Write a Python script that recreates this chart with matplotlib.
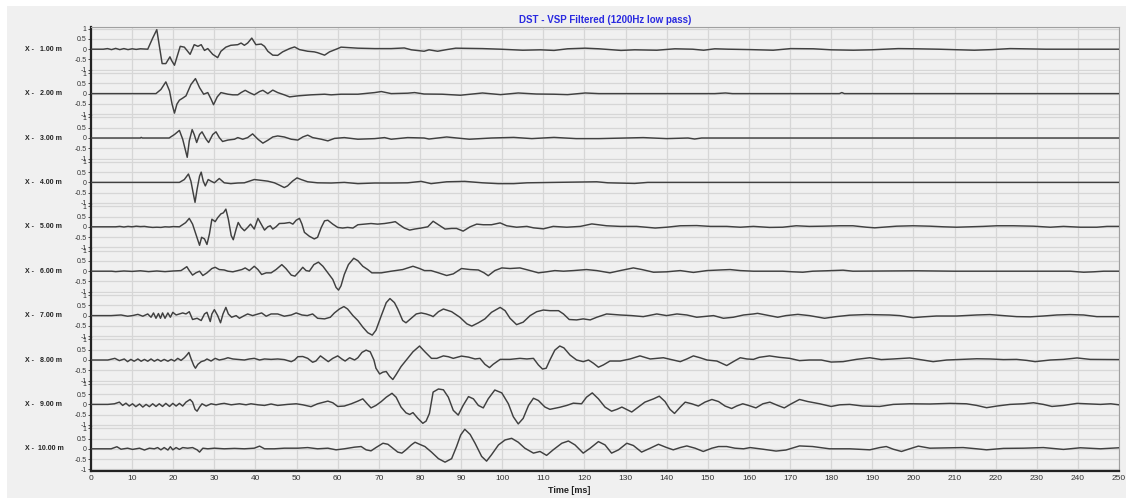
import numpy as np
import matplotlib
matplotlib.use("Agg")
import matplotlib.pyplot as plt
from matplotlib.patches import Rectangle

plt.rcParams['font.family'] = ['Liberation Sans', 'DejaVu Sans']

# offsets (m) of each trace
offsets = [1.0, 2.0, 3.0, 4.0, 5.0, 6.0, 7.0, 8.0, 9.0, 10.0]

# trace 1 : X - 1.00 m  (time ms, amplitude)
t1 = [0, 3, 4, 5, 6, 7, 8, 9, 10, 11, 12, 13.8, 15, 16, 17.3, 18.2, 19.2, 19.6, 20.3, 21.7, 22.7, 23.5, 24.1,
      25.1, 26, 26.8, 27.6, 28.4, 29.6, 30.8, 31.6, 32.8, 34, 35.7, 36.5, 37.3, 38.1, 39.1, 40.1, 41.4, 42.2,
      43, 44.2, 45.4, 46.6, 48.3, 49.5, 50.7, 52.7, 54.3, 55.1, 56.8, 58, 60, 60.8, 64.9, 69, 73, 76.2, 77.9,
      81, 82.2, 84.3, 86.5, 88.7, 95.2, 99.6, 105, 109.3, 112.6, 115.9, 120.2, 123.5, 128.9, 132.2, 137.6,
      142, 146.3, 149, 151.7, 155, 160.4, 165.9, 170.2, 175.7, 180, 185.4, 189.8, 196.3, 200.7, 206.1, 214.8,
      219.1, 223.5, 226.7, 232.2, 250]
a1 = [0, 0, 0.03, -0.02, 0.04, -0.02, 0.03, -0.02, 0.02, -0.01, 0.02, 0.0, 0.54, 0.95, -0.7, -0.7, -0.37, -0.55,
      -0.78, 0.14, 0.1, -0.1, -0.25, 0.22, 0.14, 0.22, -0.06, 0.03, -0.25, -0.41, -0.1, 0.1, 0.19, 0.22, 0.3,
      0.19, 0.3, 0.54, 0.22, 0.25, 0.14, -0.1, -0.29, -0.3, -0.13, 0.03, 0.11, -0.02, -0.1, -0.13, -0.17, -0.29,
      -0.13, 0.03, 0.1, 0.05, 0.03, 0.03, 0.06, -0.03, -0.1, -0.03, -0.1, -0.02, 0.05, 0.03, 0, -0.05, -0.03,
      -0.06, 0.02, 0.05, 0.02, -0.06, -0.03, -0.05, 0.02, 0, -0.05, 0.02, 0, -0.02, -0.05, 0.03, 0.02, -0.03,
      -0.05, -0.03, 0.03, 0.02, 0, -0.05, -0.02, 0.03, 0.02, 0, 0]

# trace 2 : X - 2.00 m
t2 = [0, 15.8, 17, 18.2, 19.1, 19.7, 20.3, 20.9, 21.5, 22.3, 23.1, 24.3, 25.4, 26.4, 27.4, 28.4, 29.2, 29.8,
      30.7, 31.6, 33.3, 34.5, 35.7, 36.5, 37.5, 38.5, 39.7, 41, 41.8, 43, 44.2, 45.4, 47, 48.3, 50.3, 53.5,
      56.8, 58.4, 60.8, 64.9, 69, 70.6, 73, 77, 78.7, 81, 85.4, 89.8, 95.2, 99.6, 103.9, 108.3, 112.6, 115.9,
      120.2, 123.5, 140.9, 151.7, 154.3, 156, 182, 182.6, 183.2, 250]
a2 = [0, 0, 0.2, 0.57, 0.13, -0.5, -0.95, -0.51, -0.32, -0.22, -0.11, 0.44, 0.73, 0.29, -0.03, 0.05, -0.27,
      -0.54, -0.16, 0.05, -0.03, -0.06, -0.06, 0.05, 0.16, 0.05, -0.06, 0.1, 0.16, 0, 0.17, 0.05, -0.06, -0.16,
      -0.11, -0.06, -0.03, -0.06, -0.03, -0.03, 0.05, 0.1, 0, 0.02, 0.05, -0.02, -0.03, -0.08, 0.03, -0.05, 0.03,
      -0.02, -0.03, -0.05, 0.03, 0, 0, 0, 0.03, 0, 0, 0.05, 0, 0]

# trace 3 : X - 3.00 m
t3 = [0, 12, 12.2, 12.5, 19, 20.3, 21.5, 22.3, 23, 23.4, 23.9, 24.6, 25.1, 25.7, 26.4, 27, 28, 28.6, 29.6,
      30.4, 31.2, 32, 33.3, 34.9, 35.7, 36.9, 38.1, 39.3, 40.6, 41.8, 43, 44.2, 45.4, 47, 48.7, 50.3, 51.5,
      52.7, 53.9, 56, 57.6, 59.2, 61.6, 64.9, 69, 71.4, 73, 77, 81, 82.2, 86.5, 92, 97.4, 102.8, 107.2, 112.6,
      118, 123.5, 134.3, 140, 145.2, 146.8, 148.5, 250]
a3 = [0, 0, 0.03, 0, 0, 0.17, 0.37, -0.06, -0.62, -0.94, -0.14, 0.41, 0.17, -0.22, 0.17, 0.3, -0.06, -0.22,
      0.17, 0.3, 0.02, -0.17, -0.1, -0.06, 0.02, -0.06, 0.02, 0.2, -0.06, -0.25, -0.11, 0.05, 0.1, 0.05, -0.06,
      -0.1, 0.05, 0.14, 0.02, -0.06, -0.14, -0.02, 0.02, -0.06, -0.03, 0.02, -0.06, 0.02, 0, -0.05, 0.05, -0.06,
      0, 0.03, -0.03, 0.03, -0.03, -0.03, 0.02, -0.03, 0, -0.05, 0, 0]

# trace 4 : X - 4.00 m
t4 = [0, 21.5, 22.7, 23.7, 24.3, 24.9, 25.3, 25.8, 26.4, 26.8, 27.3, 27.8, 28.5, 29.2, 30, 31.2, 32.4, 34,
      35.7, 37.3, 38.5, 39.7, 41.4, 43, 44.6, 45.8, 47, 47.8, 49, 50.1, 51.1, 52.7, 55.1, 58.4, 61.6, 64.9,
      69, 73, 77, 80.3, 82.7, 86.5, 90.9, 95.2, 99, 102.8, 106.1, 112.6, 123, 125.7, 132.2, 135.4, 250]
a4 = [0, 0, 0.14, 0.41, 0.06, -0.57, -0.97, -0.33, 0.3, 0.5, 0.06, -0.17, 0.14, 0.06, -0.02, 0.19, -0.02,
      -0.06, -0.03, -0.02, 0.06, 0.14, 0.1, 0.06, -0.02, -0.13, -0.25, -0.17, 0.06, 0.22, 0.14, 0.03, -0.02,
      -0.03, 0, -0.06, -0.03, -0.03, -0.02, 0.05, -0.06, 0.03, 0.05, -0.02, -0.06, -0.06, -0.02, 0, 0.03, -0.02,
      -0.05, 0, 0]

# trace 5 : X - 5.00 m
t5 = [0, 6, 7, 8, 9, 10, 11, 12, 13, 14, 15, 16, 17, 18, 19, 20, 21.5, 23, 23.9, 24.7, 25.5, 26.4, 26.9,
      27.6, 28.2, 28.8, 29.4, 30.2, 30.8, 31.6, 32.2, 32.8, 33.4, 34.1, 34.6, 35.3, 35.8, 36.5, 37.3, 38.1,
      38.8, 39.7, 40.6, 41.4, 42.2, 43, 43.6, 44.2, 45, 45.8, 47, 48.3, 49.1, 49.9, 50.7, 51.3, 51.9, 53.1,
      54.3, 55.1, 56, 56.8, 57.6, 58.8, 60, 61.2, 62.4, 63.7, 64.9, 66.5, 68.1, 69.7, 71.4, 73, 74, 75, 76.2,
      77.5, 78.7, 80.3, 81.9, 83.2, 84.5, 86.1, 87.7, 88.9, 90.5, 92.2, 93.8, 95.4, 97.4, 99.5, 101.1, 103.5,
      106, 107.6, 110, 112.4, 115.7, 119, 121.8, 125.4, 128.7, 132.7, 135.1, 137.2, 140, 143.3, 147.3, 150.6,
      154.6, 157.9, 161.1, 165, 168.2, 171.5, 174.7, 178, 182, 185.3, 188.6, 190.6, 192.6, 195.9, 199.9, 204,
      207.3, 210.5, 213.8, 217, 220.3, 224.3, 229.2, 233.3, 236.5, 240.6, 244.6, 247.1, 250]
a5 = [0, 0, 0.02, -0.01, 0.02, 0, 0.03, 0.01, 0.02, -0.01, -0.03, -0.02, -0.03, 0, -0.01, 0.01, 0, 0.2, 0.41,
      0.13, -0.35, -0.9, -0.51, -0.59, -0.86, -0.35, 0.37, 0.25, 0.44, 0.63, 0.68, 0.86, 0.37, -0.43, -0.63,
      -0.11, 0.21, -0.03, -0.19, -0.03, 0.13, -0.11, 0.41, 0.13, -0.16, 0, 0.05, -0.11, 0, 0.16, 0.17, 0.21,
      0.13, 0.32, 0.41, 0.13, -0.27, -0.46, -0.59, -0.51, -0.03, 0.29, 0.32, 0.13, -0.03, -0.06, -0.03, -0.06,
      0.1, 0.13, 0.16, 0.13, 0.16, 0.21, 0.25, 0.1, -0.06, -0.16, -0.11, -0.06, 0, 0.27, 0.1, -0.11, -0.08,
      -0.08, -0.21, 0, 0.13, 0.1, 0.1, 0.19, 0.05, -0.02, 0.02, -0.05, -0.1, 0.02, -0.02, 0.02, 0.14, 0.05,
      0.02, 0.02, -0.02, -0.06, -0.02, 0.05, 0.06, 0.02, 0.02, -0.02, 0.02, -0.03, -0.02, 0.05, 0.02, 0.03,
      0.05, 0.05, -0.02, -0.05, -0.02, 0.03, 0.05, 0.03, 0, -0.02, 0, 0.02, 0.05, 0.05, 0.03, -0.02, 0.02,
      -0.02, -0.02, 0.02, 0.02]

# trace 6 : X - 6.00 m
t6 = [0, 5, 6, 8, 10, 12, 14, 16, 18, 20, 21.9, 23.3, 23.9, 24.7, 25.5, 26.4, 27.2, 28.2, 29.4, 30.2, 31.2,
      32.4, 33.3, 34.5, 35.7, 36.7, 37.5, 38.5, 39.7, 40.6, 41.5, 42.6, 43.8, 45, 46.4, 47.4, 48.7, 49.6,
      50.7, 51.5, 52.3, 53.1, 54.2, 55.3, 56.4, 57.6, 58.8, 59.6, 60.2, 60.8, 61.6, 62.6, 63.9, 64.9, 66.1,
      67.3, 68.3, 70.6, 73, 75.8, 78.3, 79.9, 81.1, 82.7, 84.5, 86.5, 88.1, 90.1, 92.2, 94.2, 95.6, 96.6,
      98.2, 99.9, 101.9, 104.3, 106.8, 108.8, 110.8, 112.8, 114.9, 117.3, 120.5, 123, 126.2, 128.7, 131.9,
      134, 136.8, 140, 143.3, 146.5, 149.8, 153, 155.4, 157.9, 161.1, 168.2, 170.7, 173.1, 175.5, 178.8,
      182.9, 185.3, 200.7, 210, 238.1, 241.4, 243.8, 246.3, 250]
a6 = [0, 0, -0.02, 0.01, -0.01, 0.02, -0.02, 0.01, -0.02, 0.01, 0.03, 0.22, 0.03, -0.19, -0.08, 0, -0.21,
      -0.08, 0.13, 0.19, 0.08, 0.06, 0, -0.03, 0.03, 0.08, 0.16, 0.03, 0.24, 0.08, -0.16, -0.08, -0.08, 0.08,
      0.32, 0.13, -0.19, -0.24, 0, 0.19, 0.03, 0, 0.32, 0.44, 0.24, -0.08, -0.4, -0.79, -0.92, -0.71, -0.16,
      0.32, 0.63, 0.51, 0.24, 0.08, -0.08, -0.08, 0, 0.08, 0.24, 0.13, 0.03, 0.03, -0.08, -0.21, -0.13, 0.13,
      0.08, 0.06, -0.08, -0.22, 0.03, 0.16, 0.13, 0.16, 0.03, -0.08, -0.03, 0.03, 0, 0.03, 0.08, 0.03, -0.08,
      0.03, 0.16, 0.08, -0.05, -0.03, 0.03, -0.06, 0.03, 0.06, 0.08, 0.03, 0, 0, -0.03, -0.05, 0, 0.02, 0.05,
      0, 0.02, 0, 0, -0.05, -0.03, 0, 0]

# trace 7 : X - 7.00 m
t7 = [0, 4.9, 7.3, 8.9, 10.1, 11.4, 12.6, 13.8, 14.6, 15.2, 15.8, 16.4, 16.9, 17.4, 18, 18.7, 19.3, 19.9,
      20.7, 21.5, 22.3, 23.1, 23.9, 24.7, 25.8, 26.8, 27.6, 28.2, 29, 29.4, 30, 30.8, 31.5, 32.1, 32.8, 33.4,
      34.2, 35.3, 36.1, 37.3, 38.1, 39.3, 40.6, 41.5, 42.6, 43.8, 45.4, 47, 48.7, 49.9, 51.3, 52.6, 53.9,
      55.1, 56.8, 58.2, 59.2, 60.4, 61.5, 62.4, 63.7, 64.9, 66.1, 67.3, 68.4, 69.3, 70.6, 71.8, 72.7, 73.8,
      74.6, 75.8, 76.6, 77.7, 79.1, 80.3, 81.5, 82.7, 83.2, 84.5, 85.7, 87.7, 89.7, 91.4, 92.6, 94.2, 95.8,
      97.4, 99.5, 100.7, 101.9, 103.5, 105.1, 106.8, 108.4, 110, 111.6, 113.7, 114.9, 116.3, 118.1, 119.7,
      121.4, 123, 125.4, 128.7, 131.5, 134.3, 137.6, 140, 142.5, 144.9, 147.3, 149.8, 151.4, 153.8, 156.2,
      158.7, 161.1, 162.1, 164.2, 167, 169, 171.9, 174.7, 178.4, 181.2, 184.5, 188.6, 194.2, 196.7, 199.9,
      202.4, 205.6, 210.5, 215.4, 218.6, 221.9, 225.1, 228.4, 231.6, 234.9, 238.1, 241.4, 244.6, 250]
a7 = [0, 0, 0.03, -0.03, 0, 0.06, -0.03, 0.08, -0.08, 0.13, -0.13, 0.1, -0.13, 0.13, -0.13, 0.13, -0.08,
      0.16, 0.03, 0.08, 0.13, 0.08, 0.19, -0.19, -0.13, -0.24, 0.08, 0.16, -0.29, 0.08, 0.29, 0, -0.35, 0.08,
      0.4, 0.08, -0.08, 0, -0.13, 0, 0.08, 0, 0.08, 0.13, -0.03, 0.08, 0.08, -0.03, 0.03, 0.13, 0.03, 0, 0.08,
      -0.13, -0.16, -0.08, 0.13, 0.32, 0.44, 0.32, 0, -0.24, -0.56, -0.83, -0.95, -0.71, 0, 0.63, 0.83, 0.63,
      0.32, -0.24, -0.35, -0.16, 0.08, 0.13, 0.08, 0, -0.05, 0.19, 0.32, 0.19, -0.08, -0.4, -0.51, -0.35,
      -0.16, 0.16, 0.4, 0.24, -0.13, -0.44, -0.32, 0, 0.19, 0.27, 0.24, 0.24, 0.08, -0.19, -0.21, -0.16,
      -0.21, -0.08, 0.08, 0.03, 0, -0.05, 0.08, 0, 0.08, 0.03, -0.08, -0.03, 0, -0.13, -0.08, 0.03, 0.08,
      0.11, 0.03, -0.08, 0, 0.06, 0, -0.13, -0.05, 0.02, 0.05, 0.03, 0, -0.1, -0.06, -0.02, -0.02, 0.03, 0.05,
      0, -0.05, -0.06, -0.02, 0.03, 0.05, 0.03, -0.05, -0.05]

# trace 8 : X - 8.00 m
t8 = [0, 4.1, 5.8, 6.9, 8.1, 8.9, 9.7, 10.5, 11.4, 12.2, 13, 13.8, 14.6, 15.4, 16.2, 17, 17.8, 18.7, 19.5,
      20.3, 21.1, 21.9, 22.7, 23.3, 23.8, 24.3, 25, 25.4, 26, 26.8, 27.6, 28.2, 29.2, 30.2, 31.2, 32.4, 33.3,
      34.5, 35.7, 37.3, 38.5, 39.7, 41, 42.2, 43.8, 45.4, 47, 48.7, 49.5, 50.3, 51.5, 52.7, 53.9, 54.7, 55.8,
      56.8, 57.7, 58.8, 60, 61, 61.8, 62.9, 64.1, 64.9, 65.9, 66.9, 67.9, 68.8, 69.3, 70.2, 71, 71.8, 72.6,
      73.4, 74.2, 75.4, 77, 78.3, 79.9, 81.2, 82.8, 84.1, 85.7, 86.9, 88.1, 90.1, 91.8, 93.4, 94.6, 95.8,
      96.9, 97.8, 99.5, 101.9, 104.3, 106, 107.6, 108.8, 109.8, 110.7, 111.6, 112.8, 114, 115, 116.5, 118.1,
      119.7, 121, 122.2, 123.4, 124.6, 126.2, 128.7, 131.1, 133.5, 136, 139.2, 141.6, 143.3, 144.9, 146.5,
      148.1, 149.8, 152.2, 154.6, 156.2, 157.9, 159.5, 161.1, 162.5, 165, 167.4, 169.9, 172.3, 174.7, 177.6,
      180, 182.9, 186.1, 189.4, 192.2, 195.1, 199.1, 201.6, 204.8, 208.1, 212.1, 215.4, 218.6, 221.9, 225.1,
      227.6, 229.6, 233.3, 236.5, 239.8, 243, 250]
a8 = [0, 0, 0.08, -0.03, 0.05, -0.08, 0.03, -0.06, 0.05, -0.06, 0.03, -0.06, 0.05, -0.06, 0.03, -0.06, 0.03,
      -0.06, 0.03, -0.05, 0.08, -0.02, 0.11, 0.24, 0.37, 0.08, -0.27, -0.4, -0.21, -0.08, -0.03, 0.05, -0.05,
      0.08, 0, 0.05, 0.11, 0.05, 0.03, 0, 0.05, 0.08, 0, 0.05, 0.03, 0.05, 0.02, -0.08, 0, 0.16, 0.17, 0.08,
      -0.11, -0.05, 0.2, 0.05, -0.08, 0.08, 0.2, 0.05, -0.05, 0.11, 0, 0.11, 0.37, 0.48, 0.4, 0, -0.4, -0.68,
      -0.59, -0.56, -0.79, -0.95, -0.71, -0.32, 0.08, 0.4, 0.68, 0.4, 0.08, 0.08, 0.2, 0.16, 0.08, 0.19, 0.14,
      0.05, 0.08, -0.21, -0.37, -0.21, 0.03, 0.03, 0.08, 0.05, 0.08, -0.24, -0.44, -0.4, 0, 0.48, 0.68, 0.59,
      0.24, 0, -0.08, 0, -0.16, -0.35, -0.24, -0.05, -0.05, 0.05, 0.2, 0.05, 0.11, 0, -0.08, 0.05, 0.2, 0.11,
      0, -0.05, -0.27, -0.08, 0.11, 0.05, 0.03, 0.13, 0.2, 0.13, 0.08, -0.03, 0, 0, -0.1, -0.08, 0.03, 0.11,
      0.02, 0.05, 0.1, 0.02, -0.08, 0, 0.03, 0.06, 0.05, 0.02, 0.03, -0.02, -0.08, 0, 0.03, 0.1, 0.03, 0.02]

# trace 9 : X - 9.00 m
t9 = [0, 4.1, 5.7, 6.9, 7.7, 8.5, 9.3, 10.1, 10.9, 11.8, 12.6, 13.4, 14.2, 15, 15.8, 16.6, 17.4, 18.2, 19.1,
      19.9, 20.7, 21.5, 22.3, 23.1, 24.1, 24.7, 25.3, 25.8, 26.4, 27, 28, 29.2, 30.4, 31.6, 32.4, 34.1, 36.1,
      37.7, 38.9, 40.6, 42.2, 43.8, 45.4, 47.8, 49.9, 51.5, 53.5, 55.1, 57.6, 58.8, 60, 61.6, 63.3, 64.9,
      66.1, 67.3, 68.1, 69.3, 70.6, 71.8, 73.2, 74.2, 75.4, 76.6, 77.5, 78.3, 79.5, 80.7, 81.5, 82.3, 83.2,
      84.5, 85.7, 86.9, 88.1, 89.3, 90.5, 91.8, 93, 94.2, 95.4, 96.6, 98.2, 99.9, 101.5, 102.7, 103.9, 105.1,
      106.4, 107.6, 108.8, 110.4, 111.6, 114, 115.7, 117.3, 119.3, 120.5, 121.9, 123.4, 125, 126.6, 127.9,
      129.1, 130.7, 131.5, 133.1, 134.7, 136.8, 138.2, 139.6, 140.8, 141.9, 143.3, 144.5, 146.1, 147.7,
      149.3, 151, 152.6, 154.2, 155.8, 157, 158.5, 159.9, 161.1, 161.7, 163.4, 165.1, 167, 168.6, 170.3,
      172.3, 174.3, 177.2, 180, 182.1, 184.5, 187.7, 191.8, 195.1, 199.1, 204, 208.9, 212.9, 215.4, 217.8,
      220.3, 223.5, 226.8, 229.2, 231.6, 233.7, 236.5, 239.8, 242.2, 245.5, 248, 250]
a9 = [0, 0, 0.03, 0.11, -0.05, 0.06, -0.08, 0.03, -0.11, 0.02, -0.13, 0, -0.11, 0.03, -0.1, 0.03, -0.1, 0.05,
      -0.1, 0.05, -0.08, 0.05, -0.08, 0.11, 0.24, 0.11, -0.24, -0.33, -0.13, 0.03, -0.08, 0.03, -0.02, 0.03,
      0.05, -0.02, 0.03, -0.02, 0.03, -0.02, -0.05, 0.02, -0.05, 0, 0.03, -0.02, -0.11, 0.03, 0.16, 0.08,
      -0.1, -0.08, 0.03, 0.16, 0.27, 0, -0.17, -0.05, 0.14, 0.35, 0.54, 0.35, -0.13, -0.41, -0.49, -0.4,
      -0.68, -0.92, -0.81, -0.44, 0.6, 0.75, 0.71, 0.35, -0.29, -0.52, -0.05, 0.38, 0.27, -0.05, -0.17, 0.27,
      0.7, 0.56, 0.03, -0.6, -0.95, -0.68, -0.05, 0.3, 0.19, -0.13, -0.24, -0.14, -0.05, 0.06, 0.03, 0.35,
      0.56, 0.27, -0.13, -0.33, -0.24, -0.13, -0.29, -0.37, -0.13, 0.11, 0.27, 0.4, 0.14, -0.24, -0.44, -0.13,
      0.11, 0.03, -0.08, 0.11, 0.24, 0.14, -0.08, -0.2, -0.08, 0.03, -0.05, -0.13, -0.17, 0.03, 0.11, -0.05,
      -0.17, 0.03, 0.24, 0.14, 0.03, -0.1, -0.02, 0, -0.08, -0.1, 0, 0.03, 0.02, 0.05, 0.03, -0.05, -0.16,
      -0.08, 0, 0.03, 0.08, 0, -0.1, -0.05, 0.05, 0.03, 0, 0.03, -0.02]

# trace 10 : X - 10.00 m
t10 = [0, 4.9, 6.3, 7.3, 8.9, 10.1, 11.8, 13, 14.2, 15.4, 16.2, 17, 17.8, 18.7, 19.3, 19.9, 20.7, 21.5,
       22.3, 23.5, 24.7, 25.8, 26.4, 27.2, 28.4, 30, 32.4, 34.9, 37.3, 39.7, 41, 42.2, 44.6, 47, 50.3, 52.7,
       55.1, 57.6, 59.6, 61.6, 64.1, 65.7, 66.9, 68.1, 69.3, 71, 72.2, 73.4, 74.6, 75.6, 76.6, 77.9, 78.8,
       79.9, 81.2, 82.8, 84.5, 86.1, 87.7, 88.9, 89.9, 90.9, 92.2, 93.4, 95, 96.2, 97.4, 99.1, 100.7, 102.3,
       103.9, 105.5, 107.6, 109.2, 110.8, 112.4, 114.5, 116.1, 117.7, 119.7, 121.4, 123.4, 125, 126.6, 128.3,
       130.3, 131.9, 133.9, 136, 138, 140, 141.6, 143.3, 144.9, 146.9, 148.9, 151, 152.6, 154.6, 156.6,
       158.7, 160.3, 163.4, 166.6, 169, 172.3, 175.5, 179.6, 184.5, 189.4, 191.8, 193.4, 195.1, 197.1, 199.1,
       201.2, 204, 208.9, 212.1, 215.4, 217.8, 221.9, 226.8, 231.6, 236.5, 240.6, 245.5, 250]
a10 = [0, 0, 0.1, -0.02, 0.03, -0.03, 0.03, -0.06, 0.03, 0, 0.06, -0.05, 0.06, -0.06, 0.1, -0.05, 0.06,
       -0.03, 0.06, 0.03, 0.06, -0.05, -0.16, 0.03, 0, 0.03, 0, 0.02, 0, 0.03, 0.13, 0, 0, 0.03, 0.03, 0.06, 0,
       0.03, -0.05, 0, 0.08, 0.11, -0.05, -0.1, 0.06, 0.27, 0.22, 0.03, -0.16, -0.21, -0.05, 0.19, 0.32, 0.22,
       0.11, -0.16, -0.48, -0.65, -0.48, 0.11, 0.67, 0.95, 0.7, 0.27, -0.37, -0.6, -0.29, 0.19, 0.43, 0.51,
       0.32, 0.03, -0.21, -0.13, -0.32, -0.05, 0.27, 0.38, 0.19, -0.21, 0.03, 0.35, 0.19, -0.21, -0.05, 0.27,
       0.16, -0.16, 0.03, 0.22, 0.06, -0.05, 0.06, 0.14, 0.03, -0.13, 0.03, 0.11, 0.11, 0.03, 0, 0.06, -0.02,
       -0.11, -0.06, 0.14, 0.11, 0, 0, -0.05, 0.06, 0.11, -0.02, -0.13, 0, 0.13, 0.03, 0.05, 0.06, 0, -0.05,
       0.02, 0.03, 0.06, -0.03, 0.05, 0, 0.05]

times = [t1, t2, t3, t4, t5, t6, t7, t8, t9, t10]
amps = [a1, a2, a3, a4, a5, a6, a7, a8, a9, a10]

x_ticks = np.arange(0, 251, 10)
y_ticks = [-1, -0.5, 0, 0.5, 1]
y_ticklabels = ['-1', '-0.5', '0', '0.5', '1']

W, H = 1126, 498
bg = '#f0f0f0'
fig = plt.figure(figsize=(W / 100, H / 100), dpi=100)
fig.patch.set_facecolor('white')
fig.patches.append(Rectangle((7 / W, 0), 1 - 7 / W, 1 - 6 / H, transform=fig.transFigure,
                             facecolor=bg, edgecolor='none', zorder=-10))

# plot area in pixels
left, right = 91, 1119
top, bottom = 27, 471
row_h = (bottom - top) / len(offsets)

for i, off in enumerate(offsets):
    ax = fig.add_axes([left / W, (H - (top + (i + 1) * row_h)) / H, (right - left) / W, row_h / H])
    ax.set_facecolor(bg)
    ax.plot(times[i], amps[i], color='#404040', lw=1.05, zorder=3)
    ax.set_xlim(0, 250)
    ax.set_ylim(-1.08, 1.08)
    ax.set_xticks(x_ticks)
    ax.set_yticks(y_ticks)
    ax.set_yticklabels(y_ticklabels)
    ax.grid(True, color='#d6d6d6', lw=0.9, zorder=0)
    ax.tick_params(axis='y', labelsize=5, length=2, width=0.6, pad=1, colors='#333333')
    ax.tick_params(axis='x', length=0)
    for s in ['top', 'right']:
        ax.spines[s].set_color('#a0a0a0')
        ax.spines[s].set_linewidth(0.8)
    ax.spines['top'].set_visible(i == 0)
    ax.spines['bottom'].set_visible(i == len(offsets) - 1)
    ax.spines['left'].set_color('#222222')
    ax.spines['left'].set_linewidth(1.6)
    if i == len(offsets) - 1:
        ax.spines['bottom'].set_color('#222222')
        ax.spines['bottom'].set_linewidth(1.6)
        ax.tick_params(axis='x', labelsize=6, pad=3, colors='#333333')
    else:
        ax.tick_params(axis='x', labelbottom=False)
    yc = top + (i + 0.5) * row_h
    fig.text(25 / W, 1 - yc / H, 'X - %6.2f m' % off, fontsize=5, fontweight='bold',
             ha='left', va='center', color='#222222')

fig.text(605 / W, 1 - 20 / H, 'DST - VSP Filtered (1200Hz low pass)', color='#2a2ae0',
         fontsize=7, fontweight='bold', ha='center', va='center')
fig.text(569 / W, 1 - 490 / H, 'Time [ms]', fontsize=6.5, fontweight='bold', ha='center',
         va='center', color='#222222')

fig.savefig('out.png', dpi=100, facecolor=fig.get_facecolor())
